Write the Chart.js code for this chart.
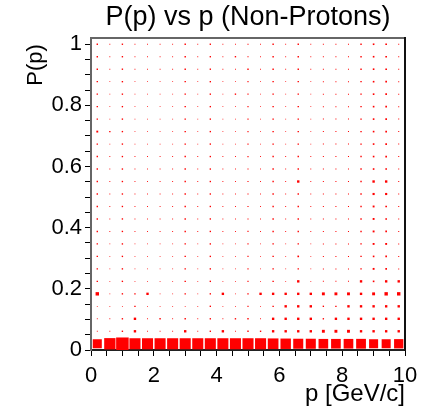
<!DOCTYPE html>
<html>
<head>
<meta charset="utf-8">
<script src="https://cdn.jsdelivr.net/npm/chart.js@4/dist/chart.umd.min.js"></script>
<style>
  html, body { margin: 0; padding: 0; background: #fff; }
  #wrap { width: 437px; height: 409px; }
</style>
</head>
<body>
<div id="wrap"><canvas id="c"></canvas></div>
<script>
// bin centres of p [GeV/c]
const pBins = [0.2, 0.6, 1.0, 1.4, 1.8, 2.2, 2.6, 3.0, 3.4, 3.8, 4.2, 4.6, 5.0,
               5.4, 5.8, 6.2, 6.6, 7.0, 7.4, 7.8, 8.2, 8.6, 9.0, 9.4, 9.8];
// bin centres of P(p)
const probBins = [0.0204, 0.0612, 0.102, 0.1428, 0.1836, 0.2244, 0.2652, 0.306, 0.3468,
                  0.3876, 0.4284, 0.4692, 0.51, 0.5508, 0.5916, 0.6324, 0.6732, 0.714,
                  0.7548, 0.7956, 0.8364, 0.8772, 0.918, 0.9588, 0.9996];
const pTickLabels = ['0', '2', '4', '6', '8', '10'];
const probTickLabels = ['0', '0.2', '0.4', '0.6', '0.8', '1'];

// relative bin content, one row per P(p) bin (bottom row first)
const content = [
  [0.72,0.90,1.00,0.88,0.88,0.88,0.88,0.88,0.88,0.88,0.88,0.88,0.88,0.88,0.85,0.83,0.80,0.80,0.77,0.77,0.77,0.78,0.72,0.72,0.74],
  [0.07,0.07,0.11,0.19,0.07,0.07,0.07,0.19,0.07,0.11,0.19,0.07,0.11,0.11,0.19,0.19,0.19,0.19,0.23,0.23,0.23,0.19,0.19,0.19,0.19],
  [0.07,0.07,0.11,0.19,0.07,0.11,0.07,0.11,0.07,0.11,0.07,0.11,0.11,0.07,0.19,0.19,0.19,0.19,0.11,0.19,0.19,0.19,0.19,0.19,0.19],
  [0.07,0.07,0.07,0.11,0.07,0.07,0.07,0.07,0.07,0.11,0.07,0.07,0.09,0.07,0.11,0.19,0.19,0.19,0.11,0.11,0.19,0.19,0.19,0.19,0.19],
  [0.27,0.07,0.11,0.11,0.19,0.07,0.07,0.11,0.07,0.11,0.19,0.07,0.11,0.19,0.19,0.19,0.19,0.19,0.23,0.23,0.23,0.19,0.23,0.27,0.27],
  [0.11,0.07,0.11,0.07,0.07,0.07,0.07,0.11,0.07,0.11,0.07,0.07,0.09,0.07,0.11,0.07,0.19,0.07,0.08,0.08,0.08,0.19,0.13,0.19,0.19],
  [0.11,0.07,0.11,0.07,0.07,0.07,0.07,0.11,0.07,0.11,0.07,0.07,0.09,0.07,0.11,0.07,0.11,0.07,0.08,0.08,0.08,0.11,0.15,0.13,0.08],
  [0.11,0.07,0.11,0.07,0.07,0.07,0.07,0.11,0.07,0.11,0.07,0.07,0.09,0.07,0.11,0.07,0.13,0.07,0.08,0.08,0.08,0.11,0.13,0.13,0.08],
  [0.11,0.07,0.11,0.07,0.07,0.07,0.07,0.11,0.07,0.11,0.07,0.07,0.09,0.07,0.11,0.07,0.11,0.07,0.08,0.08,0.08,0.11,0.15,0.15,0.08],
  [0.11,0.07,0.11,0.07,0.07,0.07,0.07,0.11,0.07,0.11,0.07,0.07,0.09,0.07,0.11,0.07,0.11,0.07,0.08,0.08,0.08,0.11,0.15,0.13,0.08],
  [0.11,0.07,0.11,0.07,0.07,0.07,0.07,0.11,0.07,0.11,0.07,0.07,0.09,0.07,0.11,0.07,0.11,0.07,0.08,0.08,0.08,0.11,0.15,0.13,0.08],
  [0.11,0.07,0.11,0.07,0.07,0.07,0.07,0.11,0.07,0.11,0.07,0.07,0.09,0.07,0.11,0.07,0.11,0.07,0.08,0.08,0.08,0.11,0.15,0.13,0.08],
  [0.11,0.07,0.11,0.07,0.07,0.07,0.07,0.11,0.07,0.11,0.07,0.07,0.09,0.07,0.11,0.07,0.11,0.07,0.08,0.08,0.08,0.11,0.17,0.17,0.08],
  [0.11,0.07,0.11,0.07,0.07,0.07,0.07,0.11,0.07,0.11,0.07,0.07,0.09,0.07,0.11,0.07,0.19,0.07,0.08,0.08,0.08,0.11,0.19,0.19,0.08],
  [0.11,0.07,0.11,0.07,0.07,0.07,0.07,0.11,0.07,0.11,0.07,0.07,0.09,0.07,0.11,0.07,0.11,0.07,0.08,0.08,0.08,0.11,0.13,0.13,0.08],
  [0.11,0.07,0.11,0.07,0.07,0.07,0.07,0.11,0.07,0.11,0.07,0.07,0.09,0.07,0.11,0.07,0.11,0.07,0.08,0.08,0.08,0.11,0.13,0.13,0.08],
  [0.11,0.07,0.11,0.07,0.07,0.07,0.07,0.11,0.07,0.11,0.07,0.07,0.09,0.07,0.11,0.07,0.11,0.07,0.08,0.08,0.08,0.11,0.13,0.13,0.08],
  [0.15,0.11,0.11,0.07,0.07,0.07,0.07,0.11,0.07,0.11,0.07,0.07,0.09,0.07,0.11,0.07,0.11,0.07,0.08,0.08,0.08,0.11,0.13,0.13,0.08],
  [0.11,0.07,0.11,0.07,0.07,0.07,0.07,0.11,0.07,0.11,0.07,0.07,0.09,0.07,0.11,0.07,0.11,0.07,0.08,0.08,0.08,0.11,0.13,0.13,0.08],
  [0.11,0.07,0.11,0.07,0.07,0.07,0.07,0.11,0.07,0.11,0.07,0.07,0.09,0.07,0.11,0.07,0.11,0.07,0.08,0.08,0.08,0.11,0.13,0.13,0.08],
  [0.11,0.07,0.11,0.07,0.07,0.07,0.07,0.11,0.07,0.11,0.07,0.11,0.09,0.07,0.11,0.07,0.11,0.07,0.08,0.08,0.08,0.11,0.13,0.13,0.08],
  [0.11,0.07,0.11,0.07,0.07,0.07,0.07,0.11,0.07,0.11,0.07,0.07,0.09,0.07,0.11,0.07,0.11,0.07,0.08,0.08,0.08,0.11,0.13,0.13,0.08],
  [0.11,0.07,0.11,0.07,0.07,0.07,0.07,0.11,0.07,0.11,0.07,0.07,0.11,0.07,0.11,0.07,0.11,0.07,0.08,0.08,0.08,0.11,0.13,0.13,0.08],
  [0.11,0.07,0.11,0.07,0.07,0.07,0.07,0.11,0.07,0.11,0.07,0.11,0.09,0.07,0.11,0.07,0.11,0.07,0.08,0.08,0.08,0.11,0.13,0.13,0.08],
  [0.11,0.07,0.11,0.07,0.07,0.07,0.07,0.11,0.07,0.11,0.07,0.07,0.09,0.07,0.11,0.07,0.11,0.07,0.08,0.08,0.08,0.11,0.13,0.13,0.08]
];

const pBinWidth = 0.4;

// points at bin centres, box size taken from the content
const points = [];
content.forEach((row, j) => {
  row.forEach((v, i) => {
    points.push({ x: pBins[i], y: probBins[j], v: v });
  });
});

const font = 'Liberation Sans, Arial, Helvetica, sans-serif';

// frame around the plot area (top / right sides)
const framePlugin = {
  id: 'frame',
  afterDraw(chart) {
    const a = chart.chartArea;
    const ctx = chart.ctx;
    ctx.save();
    ctx.lineWidth = 2;
    ctx.strokeStyle = '#666';
    ctx.beginPath();
    ctx.moveTo(a.left, a.top);
    ctx.lineTo(a.right, a.top);
    ctx.stroke();
    ctx.strokeStyle = '#111';
    ctx.beginPath();
    ctx.moveTo(a.right, a.top - 1);
    ctx.lineTo(a.right, a.bottom + 1);
    ctx.stroke();
    ctx.restore();
  }
};

function isMajor(v, step) {
  const r = v / step;
  return Math.abs(r - Math.round(r)) < 1e-6;
}

function boxRadius(ctx) {
  const s = ctx.chart.scales.x;
  const binPx = s.getPixelForValue(pBinWidth) - s.getPixelForValue(0);
  return ctx.raw.v * binPx / Math.SQRT2;
}

new Chart(document.getElementById('c'), {
  type: 'scatter',
  data: {
    datasets: [{
      data: points,
      pointStyle: 'rect',
      backgroundColor: '#ff0000',
      pointBorderWidth: 0,
      pointRadius: boxRadius,
      pointHoverRadius: boxRadius
    }]
  },
  options: {
    responsive: true,
    maintainAspectRatio: false,
    animation: false,
    events: [],
    layout: { padding: { left: 0, right: 32, top: 0, bottom: 0 } },
    plugins: {
      legend: { display: false },
      tooltip: { enabled: false },
      title: {
        display: true,
        fullSize: false,
        text: 'P(p) vs p (Non-Protons)',
        color: '#000',
        font: { family: font, size: 27, weight: 'normal' },
        padding: { top: 1, bottom: 4.6 }
      }
    },
    scales: {
      x: {
        type: 'linear',
        min: 0,
        max: 10,
        afterFit: (s) => { s.height = 59; },
        border: { display: true, color: '#222', width: 2 },
        grid: { display: true, drawOnChartArea: false, drawTicks: true, tickLength: 6, color: '#000' },
        ticks: {
          stepSize: 0.5,
          autoSkip: false,
          maxRotation: 0,
          includeBounds: false,
          padding: 7,
          color: '#000',
          font: { family: font, size: 22 },
          callback: (v) => isMajor(v, 2) ? pTickLabels[Math.round(v / 2)] : ''
        },
        title: {
          display: true,
          text: 'p [GeV/c]',
          align: 'end',
          color: '#000',
          font: { family: font, size: 24 },
          padding: { top: 0, bottom: 0 }
        }
      },
      y: {
        type: 'linear',
        min: 0,
        max: 1.02,
        afterFit: (s) => { s.width = 91; },
        border: { display: true, color: '#666', width: 2 },
        grid: { display: true, drawOnChartArea: false, drawTicks: true, tickLength: 6, color: '#000' },
        ticks: {
          stepSize: 0.05,
          autoSkip: false,
          includeBounds: false,
          padding: 3,
          color: '#000',
          font: { family: font, size: 22 },
          callback: (v) => isMajor(v, 0.2) ? probTickLabels[Math.round(v / 0.2)] : ''
        },
        title: {
          display: true,
          text: 'P(p) ',
          align: 'end',
          color: '#000',
          font: { family: font, size: 22 },
          padding: { top: 23, bottom: 0 }
        }
      }
    }
  },
  plugins: [framePlugin]
});
</script>
</body>
</html>
